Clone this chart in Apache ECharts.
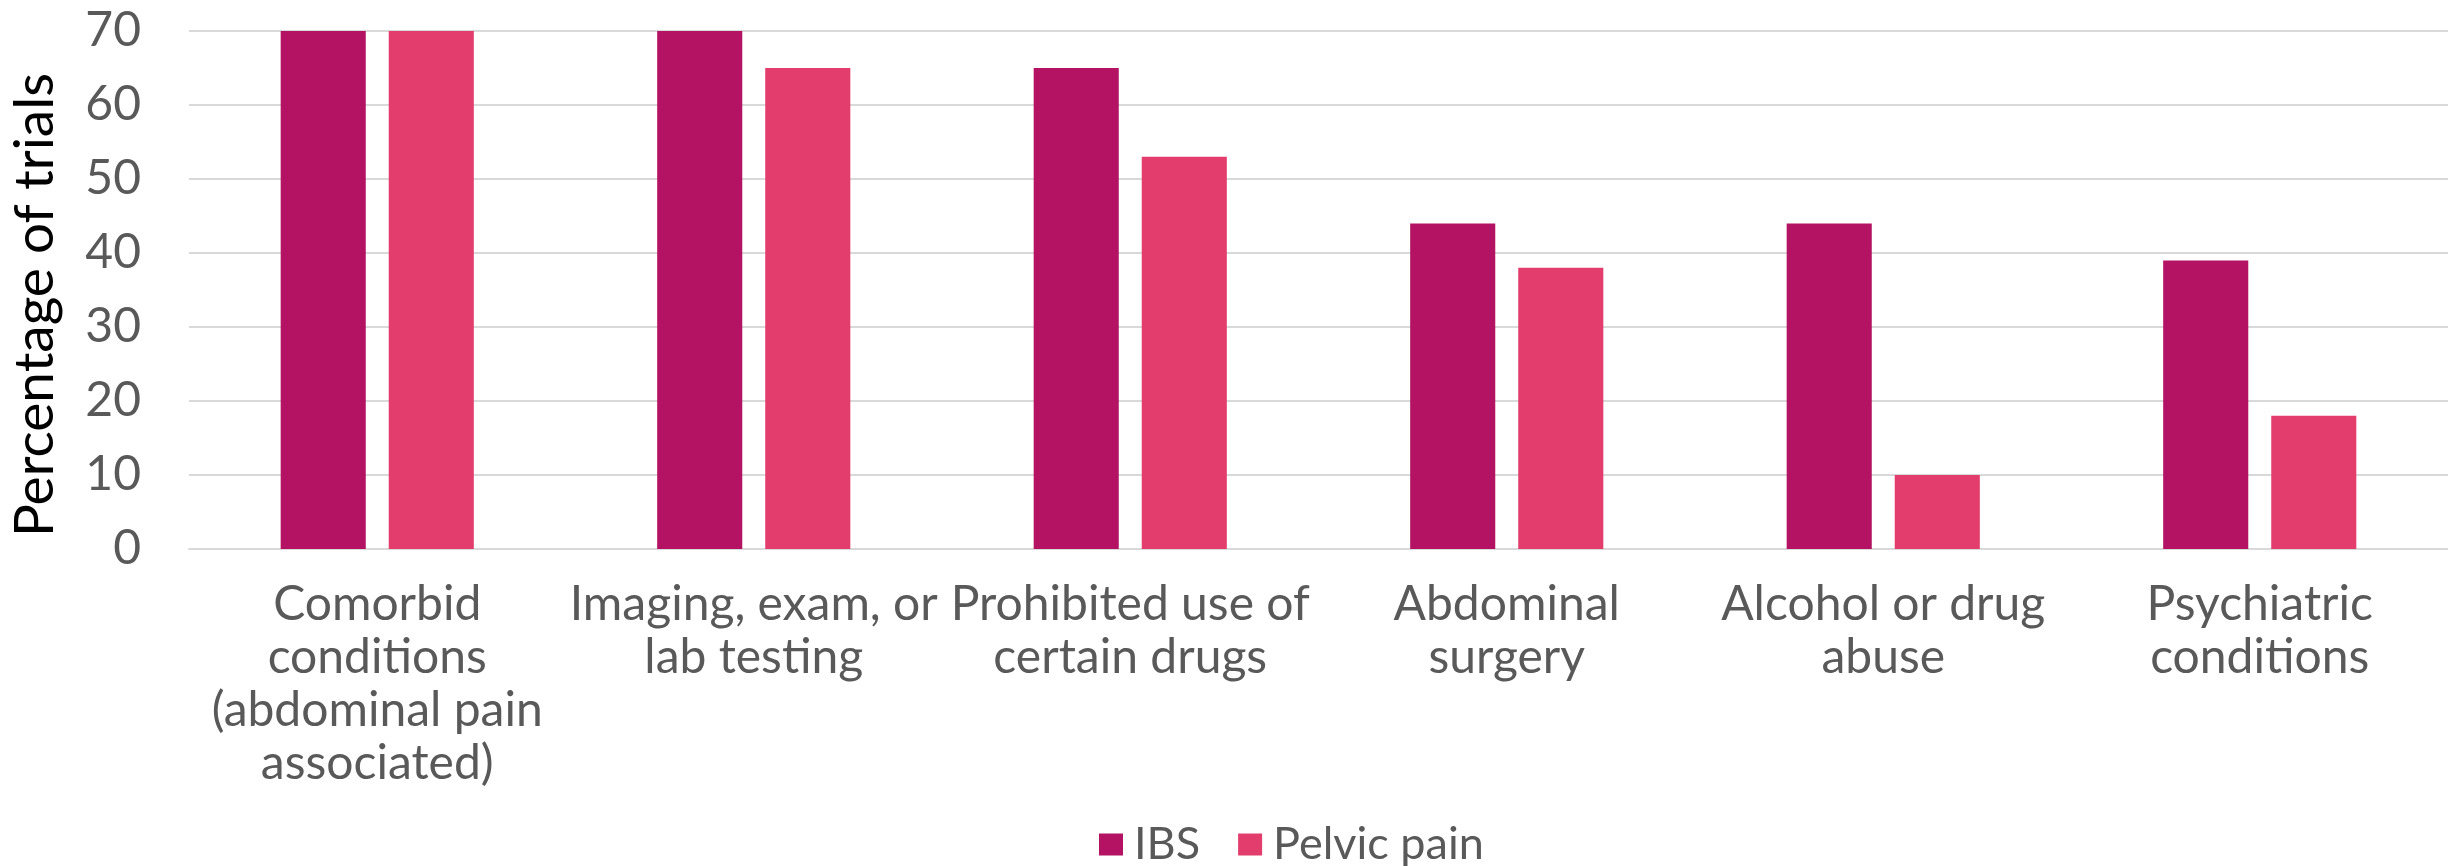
<!DOCTYPE html>
<html>
<head>
<meta charset="utf-8">
<title>Exclusion criteria by trial type</title>
<script src="https://cdn.jsdelivr.net/npm/echarts@6/dist/echarts.min.js"></script>
<style>
  html, body { margin: 0; padding: 0; background: #ffffff; }
  #chart { width: 2448px; height: 866px; }
</style>
</head>
<body>
<div id="chart"></div>
<script>
// Exclusion criteria categories (x axis)
const categories = [
  'Comorbid\nconditions\n(abdominal pain\nassociated)',
  'Imaging, exam, or\nlab testing',
  'Prohibited use of\ncertain drugs',
  'Abdominal\nsurgery',
  'Alcohol or drug\nabuse',
  'Psychiatric\nconditions'
];

// Percentage of trials using each criterion
const ibsValues = [70, 70, 65, 44, 44, 39];
const pelvicValues = [70, 65, 53, 38, 10, 18];

const seriesNames = ['IBS', 'Pelvic pain'];
const seriesColors = ['#B31362', '#E33D6E'];

const yTicks = { min: 0, max: 70, interval: 10 };
const yTitle = 'Percentage of trials';

const FONT = 'Lato, "Noto Sans", sans-serif';
const TEXT = '#595959';
const GRID_LINE = '#D9D9D9';

const chart = echarts.init(document.getElementById('chart'), null, { renderer: 'canvas' });

chart.setOption({
  animation: false,
  backgroundColor: '#ffffff',
  textStyle: { fontFamily: FONT },
  grid: { left: 188, right: 0, top: 31, bottom: 317, containLabel: false },
  legend: {
    data: seriesNames,
    left: 1094,
    top: 817,
    itemWidth: 24,
    itemHeight: 22,
    itemGap: 38,
    icon: 'rect',
    textStyle: { fontFamily: FONT, fontSize: 45, color: TEXT, lineHeight: 44, padding: [0, 0, 0, 6] }
  },
  xAxis: {
    type: 'category',
    data: categories,
    axisTick: { show: false },
    axisLine: { show: true, lineStyle: { color: GRID_LINE, width: 2 } },
    axisLabel: {
      interval: 0,
      margin: 29,
      fontFamily: FONT,
      fontSize: 48,
      lineHeight: 53,
      color: TEXT,
      align: 'center'
    }
  },
  yAxis: {
    type: 'value',
    min: yTicks.min,
    max: yTicks.max,
    interval: yTicks.interval,
    name: yTitle,
    nameLocation: 'middle',
    nameRotate: 90,
    nameGap: 126,
    nameTextStyle: { fontFamily: FONT, fontSize: 55, color: '#000000', padding: [0, 30, 0, 0] },
    axisLine: { show: false },
    axisTick: { show: false },
    splitLine: { show: true, lineStyle: { color: GRID_LINE, width: 2 } },
    axisLabel: { margin: 48, fontFamily: FONT, fontSize: 48, color: TEXT }
  },
  series: [
    {
      name: seriesNames[0],
      type: 'bar',
      data: ibsValues,
      itemStyle: { color: seriesColors[0] },
      barWidth: '22.6%',
      barGap: '27%'
    },
    {
      name: seriesNames[1],
      type: 'bar',
      data: pelvicValues,
      itemStyle: { color: seriesColors[1] },
      barWidth: '22.6%',
      barGap: '27%'
    }
  ]
});
</script>
</body>
</html>
